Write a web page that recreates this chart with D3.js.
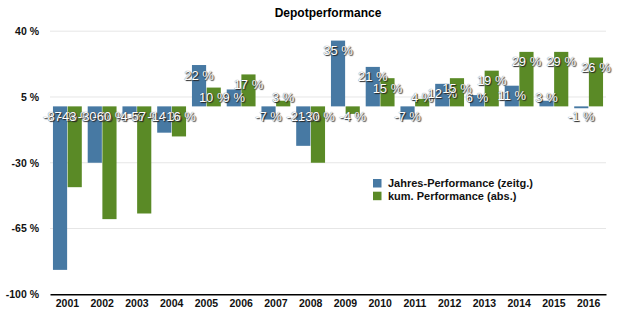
<!DOCTYPE html>
<html>
<head>
<meta charset="utf-8">
<script src="https://cdn.jsdelivr.net/npm/d3@7"></script>
<style>
  body { margin: 0; background: #fff; }
  svg { font-family: "Liberation Sans", Arial, sans-serif; }
  .val { fill: #fff; font-size: 13px; text-shadow: 1px 1px 1px #222, 0 0 1px #444; }
  .tick text { font-weight: bold; font-size: 10.5px; fill: #111; }
</style>
</head>
<body>
<svg id="chart" width="624" height="323"></svg>
<script>
const years = ['2001','2002','2003','2004','2005','2006','2007','2008','2009','2010','2011','2012','2013','2014','2015','2016'];
const jahres = [-87, -30, -4, -14, 22, 9, -7, -21, 35, 21, -7, 12, 6, 11, 3, -1];
const kum = [-43, -60, -57, -16, 10, 17, 3, -30, -4, 15, 4, 15, 19, 29, 29, 26];
const yTicks = [40, 5, -30, -65, -100];
const seriesNames = ['Jahres-Performance (zeitg.)', 'kum. Performance (abs.)'];
const colors = ['#4779a3', '#5a8a26'];

const svg = d3.select('#chart');
const plotLeft = 50, plotRight = 606, plotTop = 31.2, plotBottom = 294.3;

const x = d3.scaleBand().domain(years).range([plotLeft, plotRight]).paddingInner(0.17).paddingOuter(0.085);
const sub = d3.scaleBand().domain([0, 1]).range([0, x.bandwidth()]).paddingInner(0.035);
const y = d3.scaleLinear().domain([-100, 40]).range([plotBottom, plotTop]);

// gridlines
svg.append('g').selectAll('line').data(yTicks.slice(0, -1)).enter().append('line')
  .attr('x1', plotLeft).attr('x2', plotRight)
  .attr('y1', d => y(d)).attr('y2', d => y(d))
  .attr('stroke', '#e6e6e6').attr('stroke-width', 1);

// y axis labels
const yAxis = svg.append('g').attr('transform', `translate(${plotLeft},0)`)
  .call(d3.axisLeft(y).tickValues(yTicks).tickSize(0).tickPadding(11).tickFormat(d => d + ' %'));
yAxis.select('.domain').remove();

const series = [jahres, kum];
const rows = years.map((yr, i) => series.map((s, k) => ({ yr, k, v: s[i] })));

const groups = svg.append('g').selectAll('g').data(rows).enter().append('g')
  .attr('transform', d => `translate(${x(d[0].yr)},0)`);

groups.selectAll('rect').data(d => d).enter().append('rect')
  .attr('x', d => sub(d.k))
  .attr('width', sub.bandwidth())
  .attr('y', d => y(Math.max(0, d.v)))
  .attr('height', d => Math.abs(y(d.v) - y(0)))
  .attr('fill', d => colors[d.k]);

// x axis
const xAxis = svg.append('g').attr('transform', `translate(0,${plotBottom})`)
  .call(d3.axisBottom(x).tickSize(0).tickPadding(5));
xAxis.select('.domain').attr('stroke', '#000').attr('stroke-width', 1.5);

// value labels
groups.selectAll('text.val').data(d => d).enter().append('text')
  .attr('class', 'val')
  .attr('x', d => sub(d.k) + sub.bandwidth() / 2)
  .attr('y', d => d.v >= 0 ? Math.min(y(d.v) + 10, y(0) - 9) : y(0) + 10)
  .attr('dy', '0.35em')
  .attr('text-anchor', 'middle')
  .text(d => d.v + ' %');

// title
svg.append('text')
  .attr('x', (plotLeft + plotRight) / 2).attr('y', 17)
  .attr('text-anchor', 'middle')
  .attr('font-weight', 'bold').attr('font-size', 12)
  .text('Depotperformance');

// legend
const legend = svg.append('g').attr('transform', 'translate(373,179)');
seriesNames.forEach((name, i) => {
  legend.append('rect').attr('x', 0).attr('y', i * 12.7).attr('width', 8.5).attr('height', 8.5).attr('fill', colors[i]);
  legend.append('text').attr('x', 15).attr('y', i * 12.7 + 8)
    .attr('font-weight', 'bold').attr('font-size', 11).attr('fill', '#111')
    .text(name);
});
</script>
</body>
</html>
